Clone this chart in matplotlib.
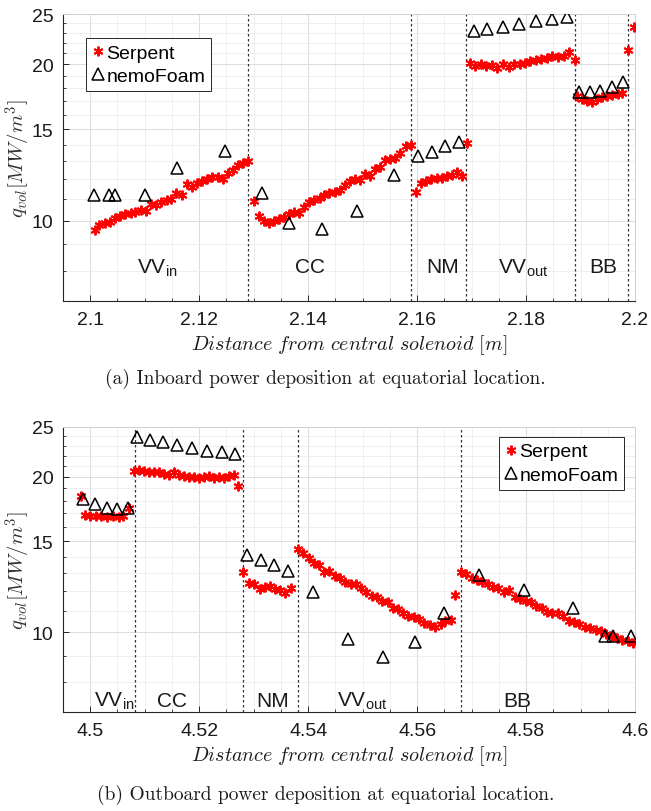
import matplotlib
matplotlib.use("Agg")
import matplotlib.pyplot as plt
from matplotlib.ticker import FixedLocator, NullFormatter, FixedFormatter

plt.rcParams['font.family'] = ['Liberation Sans', 'DejaVu Sans']
plt.rcParams['mathtext.fontset'] = 'custom'
plt.rcParams['mathtext.rm'] = 'Liberation Sans'
plt.rcParams['mathtext.it'] = 'Liberation Sans:italic'

# ---------------- Inboard (a) ----------------
in_serpent_x = [
    2.1008, 2.1017, 2.1027, 2.1036, 2.1046, 2.1055, 2.1064, 2.1074, 2.1083, 2.1093,
    2.1102, 2.1111, 2.1121, 2.1130, 2.1140, 2.1149, 2.1158, 2.1168, 2.1177, 2.1187,
    2.1196, 2.1205, 2.1215, 2.1224, 2.1234, 2.1243, 2.1252, 2.1262, 2.1271, 2.1281, 2.1290,
    2.1300, 2.1309, 2.1319, 2.1328, 2.1337, 2.1346, 2.1356, 2.1365, 2.1374, 2.1384,
    2.1393, 2.1402, 2.1411, 2.1421, 2.1430, 2.1439, 2.1449, 2.1458, 2.1467, 2.1476,
    2.1486, 2.1495, 2.1504, 2.1514, 2.1523, 2.1532, 2.1541, 2.1551, 2.1560, 2.1569, 2.1579, 2.1588,
    2.1598, 2.1607, 2.1617, 2.1626, 2.1636, 2.1645, 2.1654, 2.1664, 2.1673, 2.1683, 2.1692,
    2.1697, 2.1707, 2.1717, 2.1727, 2.1737, 2.1747, 2.1758, 2.1768, 2.1778, 2.1788,
    2.1798, 2.1808, 2.1818, 2.1828, 2.1838, 2.1848, 2.1859, 2.1869, 2.1879, 2.1889,
    2.1893, 2.1902, 2.1912, 2.1921, 2.1930, 2.1940, 2.1949, 2.1958, 2.1968, 2.1977,
    2.1988, 2.1999]
in_serpent_y = [
    9.6, 9.8, 9.9, 9.95, 10.1, 10.2, 10.3, 10.35, 10.4, 10.5,
    10.45, 10.75, 10.7, 10.85, 10.95, 11.0, 11.3, 11.2, 11.75, 11.6,
    11.8, 11.9, 12.0, 12.15, 12.15, 12.05, 12.35, 12.5, 12.8, 12.9, 13.0,
    10.9, 10.2, 9.97, 9.9, 9.97, 10.08, 10.15, 10.3, 10.4, 10.35,
    10.6, 10.85, 10.95, 11.05, 11.2, 11.3, 11.35, 11.45, 11.7, 11.9,
    12.05, 11.95, 12.3, 12.2, 12.55, 12.7, 13.1, 13.15, 13.2, 13.5, 13.95, 14.0,
    11.35, 11.8, 11.9, 12.0, 12.1, 12.1, 12.2, 12.25, 12.4, 12.2, 14.1,
    20.15, 19.85, 20.05, 19.85, 19.95, 19.7, 20.05, 19.8, 20.0, 20.05,
    20.15, 20.3, 20.35, 20.5, 20.6, 20.75, 20.7, 20.75, 21.1, 20.4,
    17.35, 17.15, 16.98, 16.9, 17.15, 17.3, 17.4, 17.45, 17.55, 17.6,
    21.35, 23.6]
in_nemo_x = [2.1006, 2.1035, 2.1045, 2.1100, 2.1160, 2.1248, 2.1315, 2.1365, 2.1425,
             2.1490, 2.1557, 2.1602, 2.1628, 2.1652, 2.1677, 2.1704, 2.1729, 2.1757,
             2.1787, 2.1818, 2.1847, 2.1876, 2.1898, 2.1917, 2.1936, 2.1958, 2.1978]
in_nemo_y = [11.2, 11.2, 11.2, 11.2, 12.6, 13.6, 11.3, 9.9, 9.65,
             10.45, 12.25, 13.3, 13.55, 13.9, 14.15, 23.2, 23.4, 23.6,
             23.9, 24.2, 24.45, 24.7, 17.65, 17.65, 17.8, 18.1, 18.45]
in_bounds = [2.129, 2.1589, 2.169, 2.1889, 2.1988]
in_regions = ['VV$_{\\mathrm{in}}$', 'CC', 'NM', 'VV$_{\\mathrm{out}}$', 'BB']
in_region_x = [2.1123, 2.1404, 2.1647, 2.1795, 2.1942]
in_xticks = [2.1, 2.12, 2.14, 2.16, 2.18, 2.2]
in_xticklabels = ['2.1', '2.12', '2.14', '2.16', '2.18', '2.2']

# ---------------- Outboard (b) ----------------
out_serpent_x = [
    4.4983, 4.4990, 4.5000, 4.5010, 4.5020, 4.5031, 4.5042, 4.5052, 4.5061, 4.5071,
    4.5081, 4.5090, 4.5099, 4.5108, 4.5117, 4.5127, 4.5136, 4.5145, 4.5154, 4.5163,
    4.5172, 4.5181, 4.5190, 4.5199, 4.5208, 4.5218, 4.5227, 4.5236, 4.5245, 4.5254, 4.5263,
    4.5272,
    4.5281, 4.5292, 4.5301, 4.5311, 4.5320, 4.5330, 4.5339, 4.5348, 4.5358, 4.5368,
    4.5381, 4.5391, 4.5401, 4.5410, 4.5420, 4.5430, 4.5439, 4.5449, 4.5459, 4.5468,
    4.5478, 4.5488, 4.5497, 4.5507, 4.5517, 4.5526, 4.5536, 4.5546, 4.5555, 4.5565,
    4.5575, 4.5584, 4.5594, 4.5604, 4.5613, 4.5623, 4.5633, 4.5643, 4.5652, 4.5662,
    4.5670,
    4.5680, 4.5690, 4.5700, 4.5710, 4.5720, 4.5730, 4.5739, 4.5749, 4.5759, 4.5769,
    4.5779, 4.5789, 4.5799, 4.5809, 4.5819, 4.5829, 4.5838, 4.5848, 4.5858, 4.5868,
    4.5878, 4.5888, 4.5898, 4.5908, 4.5918, 4.5928, 4.5937, 4.5947, 4.5957, 4.5967,
    4.5977, 4.5987, 4.5997]
out_serpent_y = [
    18.4, 16.85, 16.83, 16.8, 16.82, 16.76, 16.8, 16.7, 16.8, 17.4,
    20.58, 20.67, 20.58, 20.49, 20.44, 20.44, 20.29, 20.14, 20.44, 20.14,
    20.08, 19.99, 19.99, 19.9, 19.99, 20.08, 19.9, 19.99, 19.9, 20.08, 20.14,
    19.25,
    13.1, 12.44, 12.4, 12.12, 12.25, 12.28, 12.12, 12.07, 11.9, 12.2,
    14.49, 14.27, 13.9, 13.59, 13.49, 13.06, 13.14, 12.87, 12.76, 12.5,
    12.4, 12.38, 12.16, 11.98, 11.77, 11.72, 11.5, 11.42, 11.16, 11.07,
    10.88, 10.75, 10.68, 10.6, 10.41, 10.33, 10.25, 10.36, 10.52, 10.56,
    11.8,
    13.1, 12.94, 12.76, 12.62, 12.53, 12.4, 12.26, 12.17, 11.95, 12.08,
    11.72, 11.6, 11.5, 11.42, 11.26, 11.13, 10.96, 10.88, 10.88, 10.75,
    10.52, 10.45, 10.36, 10.25, 10.18, 10.11, 10.04, 9.91, 9.81, 9.74,
    9.67, 9.6, 9.52]
out_nemo_x = [4.4987, 4.5009, 4.5030, 4.5050, 4.5070, 4.5086, 4.5109, 4.5133, 4.5160,
              4.5187, 4.5215, 4.5242, 4.5265, 4.5287, 4.5313, 4.5338, 4.5363, 4.5409,
              4.5474, 4.5538, 4.5597, 4.5650, 4.5713, 4.5796, 4.5886, 4.5945, 4.5960, 4.5992]
out_nemo_y = [18.15, 17.7, 17.4, 17.3, 17.4, 23.88, 23.63, 23.35, 23.07,
              22.73, 22.5, 22.34, 22.17, 14.11, 13.8, 13.49, 13.14, 11.95,
              9.7, 8.95, 9.55, 10.88, 12.9, 12.05, 11.16, 9.85, 9.85, 9.85]
out_bounds = [4.5083, 4.5281, 4.5381, 4.568]
out_regions = ['VV$_{\\mathrm{in}}$', 'CC', 'NM', 'VV$_{\\mathrm{out}}$', 'BB']
out_region_x = [4.5044, 4.5150, 4.5335, 4.5500, 4.5783]
out_xticks = [4.5, 4.52, 4.54, 4.56, 4.58, 4.6]
out_xticklabels = ['4.5', '4.52', '4.54', '4.56', '4.58', '4.6']

y_ticks = [10, 15, 20, 25]
y_minor = [7, 8, 9, 11, 12, 13, 14, 16, 17, 18, 19, 21, 22, 23, 24]

W, H = 651, 812
fig = plt.figure(figsize=(W / 100, H / 100), dpi=100)

ax_dark = '#262626'


def make_axes(rect, xlim, xticks, xticklabels, sx, sy, nx, ny, bounds,
              regions, region_x, region_y, legend_loc, legend_anchor, caption, cap_y):
    ax = fig.add_axes(rect)
    ax.set_yscale('log')
    ax.set_xlim(*xlim)
    ax.set_ylim(7, 25)
    ax.yaxis.set_major_locator(FixedLocator(y_ticks))
    ax.yaxis.set_major_formatter(FixedFormatter([str(v) for v in y_ticks]))
    ax.yaxis.set_minor_locator(FixedLocator(y_minor))
    ax.yaxis.set_minor_formatter(NullFormatter())
    ax.set_xticks(xticks)
    ax.set_xticklabels(xticklabels)
    minor = []
    v = round(xticks[0] - 0.005, 4)
    while v <= xticks[-1] + 1e-9:
        minor.append(v)
        v = round(v + 0.005, 4)
    ax.set_xticks(minor, minor=True)
    ax.grid(True, which='major', color='#dcdcdc', lw=0.7)
    ax.grid(True, which='minor', color='#ececec', lw=0.6)
    ax.set_axisbelow(True)
    ax.tick_params(which='both', direction='in', colors=ax_dark, labelsize=14,
                   labelcolor='#1a1a1a')
    ax.tick_params(which='major', length=4, width=0.7, pad=7)
    ax.tick_params(which='minor', length=2, width=0.6)
    for s in ['left', 'bottom']:
        ax.spines[s].set_color(ax_dark)
        ax.spines[s].set_linewidth(0.8)
    for s in ['top', 'right']:
        ax.spines[s].set_color('#d0d0d0')
        ax.spines[s].set_linewidth(0.7)
    for b in bounds:
        ax.axvline(b, color='#333333', ls=(0, (2, 2)), lw=0.9, zorder=1.5)
    ax.plot(sx, sy, ls='none', marker=(6, 2, 0), ms=7, mew=1.4, color='#ff0000',
            label='Serpent', zorder=3)
    ax.plot(nx, ny, ls='none', marker='^', ms=9, mew=1.1, mfc='none',
            mec='black', label='nemoFoam', zorder=4)
    for lab, xx in zip(regions, region_x):
        ax.text(xx, region_y, lab, ha='center', va='baseline', fontsize=15,
                color='#1a1a1a')
    leg = ax.legend(loc=legend_loc, bbox_to_anchor=legend_anchor, fontsize=14,
                    frameon=True, fancybox=False, edgecolor='#262626', framealpha=1,
                    handlelength=0.6, handletextpad=0.15, borderpad=0.3,
                    labelspacing=0.3, borderaxespad=0.0)
    leg.get_frame().set_linewidth(0.7)
    ax.set_ylabel(r'$q_{vol}[MW/m^3]$', fontsize=15, math_fontfamily='cm',
                  color='#333333')
    ax.yaxis.set_label_coords(-0.052, 0.5)
    ax.set_xlabel(r'$Distance\ from\ central\ solenoid\ [m]$', fontsize=14.5,
                  math_fontfamily='cm', color='#1a1a1a', labelpad=3)
    fig.text(0.5, cap_y, caption, ha='center', va='center', fontsize=14,
             family='cmr10', color='#1a1a1a')
    return ax


make_axes([63 / W, 1 - 302 / H, 572 / W, 287 / H], (2.1, 2.2), in_xticks,
          in_xticklabels, in_serpent_x, in_serpent_y, in_nemo_x, in_nemo_y,
          in_bounds, in_regions, in_region_x, 7.95, 'upper left', (0.04, 0.916),
          '(a) Inboard power deposition at equatorial location.', 1 - 379 / H)

make_axes([63 / W, 1 - 713 / H, 572 / W, 285 / H], (4.4983, 4.6), out_xticks,
          out_xticklabels, out_serpent_x, out_serpent_y, out_nemo_x, out_nemo_y,
          out_bounds, out_regions, out_region_x, 7.2, 'upper right', (0.981, 0.965),
          '(b) Outboard power deposition at equatorial location.', 1 - 795 / H)

fig.savefig('out.png', dpi=100)
